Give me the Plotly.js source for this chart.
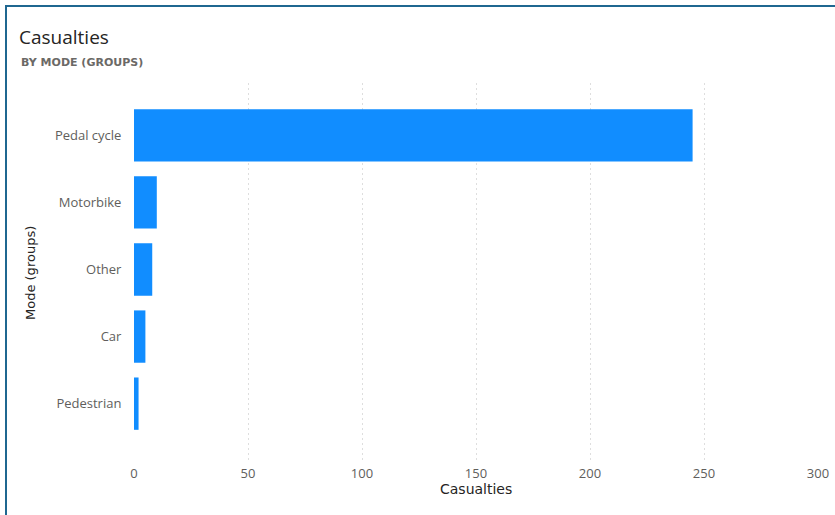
<!DOCTYPE html>
<html>
<head>
<meta charset="utf-8">
<script src="https://cdn.plot.ly/plotly-3.0.1.min.js"></script>
<style>
  html, body { margin: 0; padding: 0; background: #ffffff; }
  #wrap { position: relative; width: 835px; height: 515px; overflow: hidden; }
  #chart { position: absolute; left: 0; top: 0; width: 835px; height: 515px; }
  #frame { position: absolute; left: 5px; top: 5px; width: 840px; height: 520px;
           border-left: 2px solid #1f6790; border-top: 2px solid #1f6790; pointer-events: none; }
</style>
</head>
<body>
<div id="wrap">
  <div id="chart"></div>
  <div id="frame"></div>
</div>
<script>
// Data (bottom-to-top order for Plotly's categorical y axis)
const categories = ["Pedestrian", "Car", "Other", "Motorbike", "Pedal cycle"];
const casualties = [2, 5, 8, 10, 245];
const xTickValues = [0, 50, 100, 150, 200, 250, 300];

const chartTitle = "Casualties";
const chartSubtitle = "BY MODE (GROUPS)";
const xTitle = "Casualties";
const yTitle = "Mode (groups)";

const trace = {
  type: "bar",
  orientation: "h",
  x: casualties,
  y: categories,
  marker: { color: "#118DFF", line: { width: 0 } },
  hoverinfo: "x+y"
};

const tickFont = { family: "'Open Sans', 'Noto Sans', sans-serif", size: 13, color: "#605E5C" };

const layout = {
  width: 835,
  height: 515,
  margin: { l: 134, r: 17, t: 83, b: 55 },
  paper_bgcolor: "#ffffff",
  plot_bgcolor: "#ffffff",
  showlegend: false,
  bargap: 0.22,
  title: {
    text: chartTitle,
    x: 19 / 835, xref: "container", xanchor: "left",
    y: 1 - 37 / 515, yref: "container", yanchor: "middle",
    font: { family: "'Open Sans', 'Noto Sans', sans-serif", size: 19, color: "#252423" }
  },
  xaxis: {
    range: [0, 300],
    tickvals: xTickValues,
    showgrid: true,
    gridcolor: "#dedede",
    griddash: "2px,3px",
    gridwidth: 1,
    zeroline: false,
    showline: false,
    ticks: "outside",
    ticklen: 1,
    tickcolor: "rgba(0,0,0,0)",
    tickfont: tickFont,
    fixedrange: true
  },
  yaxis: {
    type: "category",
    categoryorder: "array",
    categoryarray: categories,
    range: [-0.84, 4.78],
    showgrid: false,
    zeroline: false,
    showline: false,
    ticks: "outside",
    ticklen: 9,
    tickcolor: "rgba(0,0,0,0)",
    tickfont: tickFont,
    fixedrange: true
  },
  annotations: [
    {
      text: chartSubtitle,
      xref: "paper", yref: "paper",
      x: (19 - 134) / 684, y: (460 - 62) / 377,
      xanchor: "left", yanchor: "middle",
      showarrow: false,
      font: { family: "'DejaVu Sans', sans-serif", size: 11, weight: "bold", color: "#6b6966" }
    },
    {
      text: xTitle,
      xref: "paper", yref: "paper",
      x: 0.5, y: (460 - 489) / 377,
      xanchor: "center", yanchor: "middle",
      showarrow: false,
      font: { family: "'DejaVu Sans', sans-serif", size: 14, color: "#252423" }
    },
    {
      text: yTitle,
      xref: "paper", yref: "paper",
      x: (30 - 134) / 684, y: (460 - 273) / 377,
      xanchor: "center", yanchor: "middle",
      textangle: -90,
      showarrow: false,
      font: { family: "'DejaVu Sans', sans-serif", size: 13, color: "#252423" }
    }
  ]
};

Plotly.newPlot("chart", [trace], layout, { displayModeBar: false, staticPlot: true });
</script>
</body>
</html>
